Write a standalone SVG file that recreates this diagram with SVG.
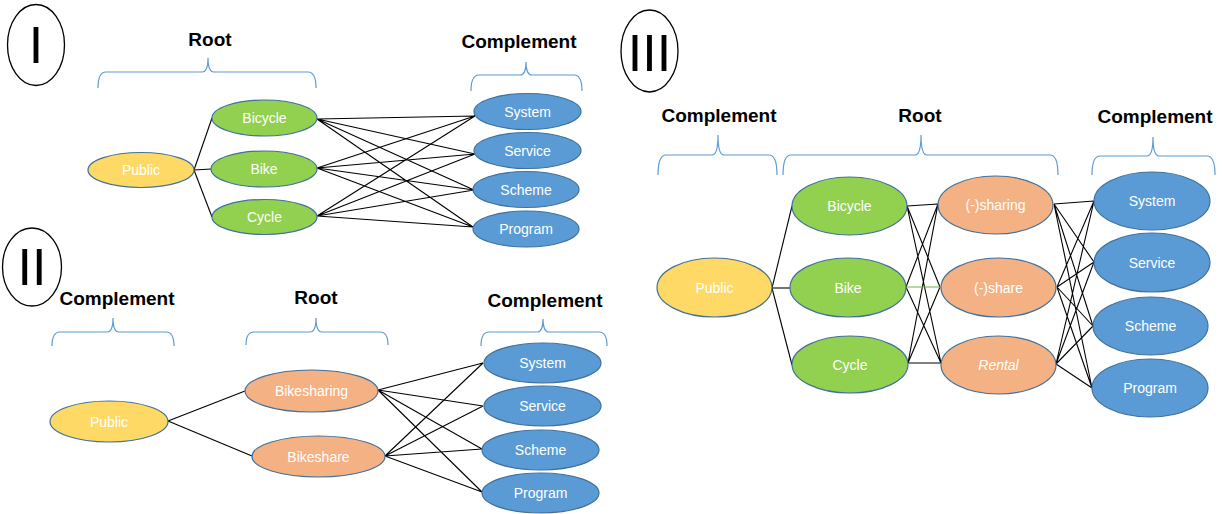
<svg xmlns="http://www.w3.org/2000/svg" width="1225" height="514" viewBox="0 0 1225 514">
<style>
.bg{fill:#ffffff}
.yel{fill:#FFD966;stroke:#41719C;stroke-width:1.2}
.grn{fill:#92D050;stroke:#41719C;stroke-width:1.2}
.org{fill:#F4B183;stroke:#41719C;stroke-width:1.2}
.blu{fill:#5B9BD5;stroke:#41719C;stroke-width:1.2}
.lbl{font-family:"Liberation Sans",Arial,sans-serif;font-size:14px;fill:#ffffff;text-anchor:middle}
.hd{font-family:"Liberation Sans",Arial,sans-serif;font-size:19px;font-weight:bold;fill:#000000;text-anchor:middle}
.num{font-family:"Liberation Sans",Arial,sans-serif;font-size:52px;fill:#000000;text-anchor:middle}
.circ{fill:#ffffff;stroke:#000000;stroke-width:1.3}
.brace{fill:none;stroke:#5B9BD5;stroke-width:1.2}
.ln{stroke:#000000;stroke-width:1.1;fill:none}
.lng{stroke:#70AD47;stroke-width:1.1;fill:none}
</style>
<rect class="bg" x="0" y="0" width="1225" height="514"/>

<!-- Panel labels -->
<g id="label-I"><ellipse class="circ" cx="36" cy="45" rx="28.5" ry="40.5"/><text class="num" x="36" y="63">I</text></g>
<g id="label-II"><ellipse class="circ" cx="32" cy="267" rx="29.5" ry="39"/><text class="num" x="32" y="285">II</text></g>
<g id="label-III"><ellipse class="circ" cx="649.5" cy="51" rx="28.5" ry="41"/><text class="num" x="649.5" y="71">III</text></g>

<!-- Headings and braces -->
<g id="head-I-root"><text class="hd" x="210" y="46">Root</text>
<path class="brace" d="M98,88 Q98,72 106,72 L202,72 Q208,72 208,58 Q208,72 214,72 L308,72 Q316,72 316,88"/></g>
<g id="head-I-comp"><text class="hd" x="519" y="48">Complement</text>
<path class="brace" d="M471,91 Q471,75 479,75 L520,75 Q526,75 526,62 Q526,75 532,75 L574,75 Q582,75 582,91"/></g>

<g id="head-II-comp1"><text class="hd" x="117" y="305">Complement</text>
<path class="brace" d="M52,346 Q52,332 60,332 L107,332 Q113,332 113,318 Q113,332 119,332 L166,332 Q174,332 174,346"/></g>
<g id="head-II-root"><text class="hd" x="316" y="304">Root</text>
<path class="brace" d="M246,345 Q246,332 254,332 L310,332 Q316,332 316,318 Q316,332 322,332 L380,332 Q388,332 388,345"/></g>
<g id="head-II-comp2"><text class="hd" x="545" y="307">Complement</text>
<path class="brace" d="M481,346 Q481,332 489,332 L537,332 Q543,332 543,319 Q543,332 549,332 L599,332 Q607,332 607,346"/></g>

<g id="head-III-comp1"><text class="hd" x="719" y="122">Complement</text>
<path class="brace" d="M658,175 Q658,155 666,155 L712,155 Q718,155 718,135 Q718,155 724,155 L769,155 Q777,155 777,175"/></g>
<g id="head-III-root"><text class="hd" x="920" y="122">Root</text>
<path class="brace" d="M783,175 Q783,155 791,155 L915,155 Q921,155 921,135 Q921,155 927,155 L1050,155 Q1058,155 1058,175"/></g>
<g id="head-III-comp2"><text class="hd" x="1155" y="123">Complement</text>
<path class="brace" d="M1092,175 Q1092,156 1100,156 L1147,156 Q1153,156 1153,137 Q1153,156 1159,156 L1207,156 Q1215,156 1215,175"/></g>

<!-- Connectors -->
<g id="connectors">
<!-- Panel I -->
<line class="ln" x1="194" y1="170" x2="212" y2="118"/>
<line class="ln" x1="194" y1="170" x2="211" y2="169"/>
<line class="ln" x1="194" y1="170" x2="212" y2="217"/>
<path class="ln" d="M317,119 L475,116 M317,119 L475,154 M317,119 L474,190 M317,119 L473,227
M317,168 L475,116 M317,168 L475,154 M317,168 L474,190 M317,168 L473,227
M317,216 L475,116 M317,216 L475,154 M317,216 L474,190 M317,216 L473,227"/>
<!-- Panel II -->
<line class="ln" x1="168" y1="421" x2="245" y2="391"/>
<line class="ln" x1="168" y1="421" x2="252" y2="456"/>
<path class="ln" d="M378,390 L483,363 M378,390 L483,406 M378,390 L482,449 M378,390 L482,492
M385,456 L483,363 M385,456 L483,406 M385,456 L482,449 M385,456 L482,492"/>
<!-- Panel III -->
<line class="ln" x1="772" y1="288" x2="792" y2="206"/>
<line class="ln" x1="772" y1="288" x2="790" y2="288"/>
<line class="ln" x1="772" y1="288" x2="792" y2="365"/>
<path class="ln" d="M907,206 L938,204 M907,206 L940,287 M907,206 L941,363
M906,287 L938,204 M906,287 L941,363
M908,363 L938,204 M908,363 L940,287 M908,363 L941,363"/>
<line class="lng" x1="906" y1="287" x2="940" y2="287"/>
<path class="ln" d="M1054,204 L1094,201 M1054,204 L1094,262 M1054,204 L1093,326 M1054,204 L1092,388
M1057,287 L1094,201 M1057,287 L1094,262 M1057,287 L1093,326 M1057,287 L1092,388
M1056,364 L1094,201 M1056,364 L1094,262 M1056,364 L1093,326 M1056,364 L1092,388"/>
</g>

<!-- Panel I nodes -->
<g id="I-public"><ellipse class="yel" cx="141" cy="170" rx="53" ry="17.5"/><text class="lbl" x="141" y="175">Public</text></g>
<g id="I-bicycle"><ellipse class="grn" cx="264.5" cy="118" rx="52.5" ry="18"/><text class="lbl" x="264.5" y="123">Bicycle</text></g>
<g id="I-bike"><ellipse class="grn" cx="264" cy="169" rx="53" ry="18"/><text class="lbl" x="264" y="174">Bike</text></g>
<g id="I-cycle"><ellipse class="grn" cx="264.5" cy="217" rx="52.5" ry="17.5"/><text class="lbl" x="264.5" y="222">Cycle</text></g>
<g id="I-system"><ellipse class="blu" cx="527.5" cy="111.5" rx="53.5" ry="18"/><text class="lbl" x="527.5" y="116.5">System</text></g>
<g id="I-service"><ellipse class="blu" cx="527.5" cy="150.5" rx="53.5" ry="18"/><text class="lbl" x="527.5" y="155.5">Service</text></g>
<g id="I-scheme"><ellipse class="blu" cx="526" cy="189.5" rx="53" ry="18"/><text class="lbl" x="526" y="194.5">Scheme</text></g>
<g id="I-program"><ellipse class="blu" cx="526" cy="229" rx="53" ry="18"/><text class="lbl" x="526" y="234">Program</text></g>

<!-- Panel II nodes -->
<g id="II-public"><ellipse class="yel" cx="109" cy="421.5" rx="59" ry="20.5"/><text class="lbl" x="109" y="426.5">Public</text></g>
<g id="II-bikesharing"><ellipse class="org" cx="311.5" cy="391" rx="66.5" ry="21"/><text class="lbl" x="311.5" y="396">Bikesharing</text></g>
<g id="II-bikeshare"><ellipse class="org" cx="318.5" cy="456.5" rx="66.5" ry="20.5"/><text class="lbl" x="318.5" y="461.5">Bikeshare</text></g>
<g id="II-system"><ellipse class="blu" cx="542.5" cy="363" rx="58.5" ry="20"/><text class="lbl" x="542.5" y="368">System</text></g>
<g id="II-service"><ellipse class="blu" cx="542.5" cy="406" rx="58.5" ry="20"/><text class="lbl" x="542.5" y="411">Service</text></g>
<g id="II-scheme"><ellipse class="blu" cx="540.5" cy="450" rx="58.5" ry="20"/><text class="lbl" x="540.5" y="455">Scheme</text></g>
<g id="II-program"><ellipse class="blu" cx="540.5" cy="493" rx="58.5" ry="20"/><text class="lbl" x="540.5" y="498">Program</text></g>

<!-- Panel III nodes -->
<g id="III-public"><ellipse class="yel" cx="714.5" cy="287.5" rx="57.5" ry="29.5"/><text class="lbl" x="714.5" y="292.5">Public</text></g>
<g id="III-bicycle"><ellipse class="grn" cx="849.5" cy="206" rx="57.5" ry="29"/><text class="lbl" x="849.5" y="211">Bicycle</text></g>
<g id="III-bike"><ellipse class="grn" cx="848" cy="287.5" rx="58" ry="29.5"/><text class="lbl" x="848" y="292.5">Bike</text></g>
<g id="III-cycle"><ellipse class="grn" cx="850" cy="364.5" rx="58" ry="28.5"/><text class="lbl" x="850" y="369.5">Cycle</text></g>
<g id="III-sharing"><ellipse class="org" cx="995.5" cy="205" rx="57.5" ry="29"/><text class="lbl" x="995.5" y="210">(-)sharing</text></g>
<g id="III-share"><ellipse class="org" cx="998.5" cy="287.5" rx="57.5" ry="29.5"/><text class="lbl" x="998.5" y="292.5">(-)share</text></g>
<g id="III-rental"><ellipse class="org" cx="998.5" cy="365" rx="57.5" ry="29"/><text class="lbl" x="998.5" y="370" font-style="italic">Rental</text></g>
<g id="III-system"><ellipse class="blu" cx="1152" cy="201" rx="58" ry="29"/><text class="lbl" x="1152" y="206">System</text></g>
<g id="III-service"><ellipse class="blu" cx="1152" cy="262.5" rx="58" ry="29.5"/><text class="lbl" x="1152" y="267.5">Service</text></g>
<g id="III-scheme"><ellipse class="blu" cx="1150.5" cy="326" rx="57.5" ry="29"/><text class="lbl" x="1150.5" y="331">Scheme</text></g>
<g id="III-program"><ellipse class="blu" cx="1150" cy="388" rx="58" ry="29"/><text class="lbl" x="1150" y="393">Program</text></g>
</svg>
